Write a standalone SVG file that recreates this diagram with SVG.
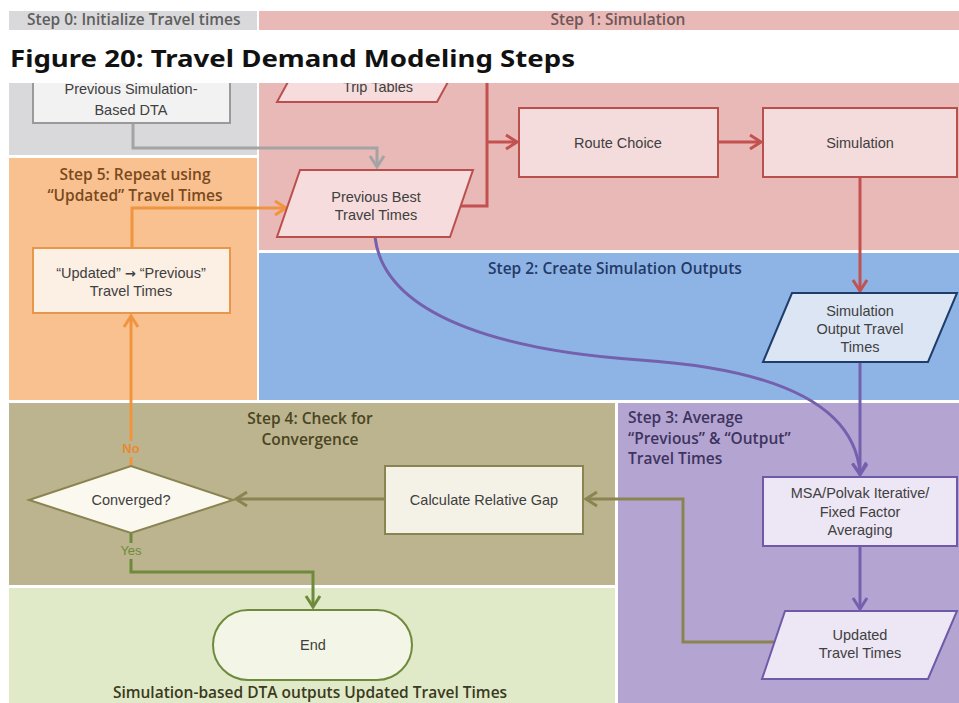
<svg xmlns="http://www.w3.org/2000/svg" width="959" height="703" viewBox="0 0 959 703">
  <style>
    .node { font-family: "Liberation Sans", Arial, sans-serif; font-size: 14.5px; fill: #404040; text-anchor: middle; }
    .step { font-family: "Open Sans", "Noto Sans", sans-serif; font-weight: 600; font-size: 15.5px; }
    .conn { fill: none; stroke-width: 3; stroke-linejoin: miter; }
    .red { stroke: #c2514f; }
    .gray { stroke: #a4a4a4; }
    .orange { stroke: #f0943e; }
    .purple { stroke: #7560ae; }
    .olive { stroke: #8a8452; }
    .green { stroke: #6f8a3c; }
  </style>
  <defs>
    <marker id="ah-red" markerUnits="userSpaceOnUse" markerWidth="18" markerHeight="18" refX="13" refY="9" orient="auto"><path d="M2,2 L13,9 L2,16" fill="none" stroke="#c2514f" stroke-width="3"/></marker>
    <marker id="ah-gray" markerUnits="userSpaceOnUse" markerWidth="18" markerHeight="18" refX="13" refY="9" orient="auto"><path d="M2,2 L13,9 L2,16" fill="none" stroke="#a4a4a4" stroke-width="3"/></marker>
    <marker id="ah-orange" markerUnits="userSpaceOnUse" markerWidth="18" markerHeight="18" refX="13" refY="9" orient="auto"><path d="M2,2 L13,9 L2,16" fill="none" stroke="#f0943e" stroke-width="3"/></marker>
    <marker id="ah-purple" markerUnits="userSpaceOnUse" markerWidth="18" markerHeight="18" refX="13" refY="9" orient="auto"><path d="M2,2 L13,9 L2,16" fill="none" stroke="#7560ae" stroke-width="3"/></marker>
    <marker id="ah-olive" markerUnits="userSpaceOnUse" markerWidth="18" markerHeight="18" refX="13" refY="9" orient="auto"><path d="M2,2 L13,9 L2,16" fill="none" stroke="#8a8452" stroke-width="3"/></marker>
    <marker id="ah-green" markerUnits="userSpaceOnUse" markerWidth="18" markerHeight="18" refX="13" refY="9" orient="auto"><path d="M2,2 L13,9 L2,16" fill="none" stroke="#6f8a3c" stroke-width="3"/></marker>
    <clipPath id="body"><rect x="0" y="83" width="959" height="620"/></clipPath>
  </defs>

  <rect width="959" height="703" fill="#ffffff"/>

  <!-- header row -->
  <g id="header">
    <rect x="9" y="11" width="248" height="19" fill="#d9d9db"/>
    <rect x="259" y="11" width="700" height="19" fill="#e9b9b8"/>
    <text class="step" x="27" y="25" font-size="13.5" fill="#5e5e5e">Step 0: Initialize Travel times</text>
    <text class="step" x="618" y="25" font-size="13.5" fill="#6e5656" text-anchor="middle">Step 1: Simulation</text>
  </g>

  <text x="10" y="67" font-family="Noto Sans, DejaVu Sans, sans-serif" font-weight="700" font-size="24" fill="#111" textLength="565" lengthAdjust="spacingAndGlyphs">Figure 20: Travel Demand Modeling Steps</text>

  <g clip-path="url(#body)">
    <!-- stage bands -->
    <g id="bands">
      <rect x="9" y="70" width="248" height="85" fill="#d9d9db"/>
      <rect x="259" y="70" width="700" height="180" fill="#e9b9b8"/>
      <rect x="9" y="158" width="248" height="242" fill="#f9c190"/>
      <rect x="259" y="253" width="700" height="147" fill="#8eb4e6"/>
      <rect x="9" y="403" width="606" height="182" fill="#bcb48e"/>
      <rect x="618" y="403" width="341" height="300" fill="#b4a4d2"/>
      <rect x="9" y="588" width="606" height="115" fill="#e0e9c8"/>
    </g>

    <!-- stage labels -->
    <g id="stage-labels">
      <text class="step" x="135" y="180" fill="#7a4a1e" text-anchor="middle">Step 5: Repeat using</text>
      <text class="step" x="135" y="201" fill="#7a4a1e" text-anchor="middle">“Updated” Travel Times</text>
      <text class="step" x="488" y="274" fill="#243a66">Step 2: Create Simulation Outputs</text>
      <text class="step" x="628" y="423" font-size="15" fill="#3d345e">Step 3: Average</text>
      <text class="step" x="628" y="443.5" font-size="15" fill="#3d345e">“Previous”  &amp; “Output”</text>
      <text class="step" x="628" y="464" font-size="15" fill="#3d345e">Travel Times</text>
      <text class="step" x="310" y="424" fill="#4a4522" text-anchor="middle">Step 4: Check for</text>
      <text class="step" x="310" y="445" fill="#4a4522" text-anchor="middle">Convergence</text>
      <text class="step" x="310" y="698" font-size="15" fill="#3a3a1e" text-anchor="middle">Simulation-based DTA outputs Updated Travel Times</text>
    </g>

    <!-- connectors -->
    <g id="connectors">
      <path class="conn gray" d="M133,123 V148 H377 V167" marker-end="url(#ah-gray)"/>
      <path class="conn red" d="M450,70 H487 V206 H461"/>
      <path class="conn red" d="M487,142 H517" marker-end="url(#ah-red)"/>
      <path class="conn red" d="M718,142 H761" marker-end="url(#ah-red)"/>
      <path class="conn red" d="M860,177 V291" marker-end="url(#ah-red)"/>
      <path class="conn purple" d="M375,237 C385,322 520,352 640,360 C760,368 855,398 860,474" marker-end="url(#ah-purple)"/>
      <path class="conn purple" d="M860,362 V475" marker-end="url(#ah-purple)"/>
      <path class="conn purple" d="M860,546 V609" marker-end="url(#ah-purple)"/>
      <path class="conn olive" d="M774,642 H683 V499 H586" marker-end="url(#ah-olive)"/>
      <path class="conn olive" d="M385,499 H236" marker-end="url(#ah-olive)"/>
      <path class="conn orange" d="M131,466 V316" marker-end="url(#ah-orange)"/>
      <path class="conn orange" d="M132,248 V208 H286" marker-end="url(#ah-orange)"/>
      <path class="conn green" d="M131,533 V572 H313 V607" marker-end="url(#ah-green)"/>
      <rect x="119" y="441" width="24" height="16" fill="#bcb48e"/>
      <text x="131" y="453" font-family="Liberation Sans, Arial, sans-serif" font-size="13" font-weight="700" fill="#e88a2e" text-anchor="middle">No</text>
      <rect x="116" y="543" width="30" height="16" fill="#bcb48e"/>
      <text x="131" y="555" font-family="Liberation Sans, Arial, sans-serif" font-size="13" fill="#6f8a3c" text-anchor="middle">Yes</text>
    </g>

    <!-- nodes -->
    <g id="prev-sim-dta">
      <rect x="33" y="60" width="197" height="63" fill="#f2f2f2" stroke="#9a9a9a" stroke-width="2"/>
      <text class="node" x="131" y="94">Previous Simulation-</text>
      <text class="node" x="131" y="115">Based DTA</text>
    </g>
    <g id="trip-tables">
      <polygon points="300,60 460,60 437,102 277,102" fill="#f6dcdc" stroke="#b9504e" stroke-width="2"/>
      <text class="node" x="378" y="92">Trip Tables</text>
    </g>
    <g id="prev-best">
      <polygon points="300,170 473,170 450,237 277,237" fill="#f6dcdc" stroke="#b9504e" stroke-width="2"/>
      <text class="node" x="376" y="202">Previous Best</text>
      <text class="node" x="376" y="220">Travel Times</text>
    </g>
    <g id="route-choice">
      <rect x="519" y="108" width="199" height="69" fill="#f5dcdc" stroke="#b9504e" stroke-width="2"/>
      <text class="node" x="618" y="148">Route Choice</text>
    </g>
    <g id="simulation">
      <rect x="763" y="108" width="194" height="69" fill="#f5dcdc" stroke="#b9504e" stroke-width="2"/>
      <text class="node" x="860" y="148">Simulation</text>
    </g>
    <g id="sim-output">
      <polygon points="792,293 957,293 928,362 763,362" fill="#dbe5f4" stroke="#1f3d6b" stroke-width="2"/>
      <text class="node" x="860" y="316">Simulation</text>
      <text class="node" x="860" y="334">Output Travel</text>
      <text class="node" x="860" y="352">Times</text>
    </g>
    <g id="updated-to-previous">
      <rect x="33" y="248" width="197" height="65" fill="#fcefe3" stroke="#e8974a" stroke-width="2"/>
      <text class="node" x="131" y="278">“Updated” <tspan font-family="DejaVu Sans, sans-serif" font-weight="700" font-size="13">→</tspan> “Previous”</text>
      <text class="node" x="131" y="296">Travel Times</text>
    </g>
    <g id="averaging">
      <rect x="763" y="477" width="194" height="69" fill="#ece6f5" stroke="#6e5aa8" stroke-width="2"/>
      <text class="node" x="860" y="498">MSA/Polvak Iterative/</text>
      <text class="node" x="860" y="517">Fixed Factor</text>
      <text class="node" x="860" y="535">Averaging</text>
    </g>
    <g id="updated-times">
      <polygon points="785,611 957,611 928,679 762,679" fill="#ece6f5" stroke="#6e5aa8" stroke-width="2"/>
      <text class="node" x="860" y="640">Updated</text>
      <text class="node" x="860" y="658">Travel Times</text>
    </g>
    <g id="relative-gap">
      <rect x="385" y="466" width="198" height="68" fill="#f4f2e6" stroke="#8a8452" stroke-width="2"/>
      <text class="node" x="484" y="505">Calculate Relative Gap</text>
    </g>
    <g id="converged">
      <polygon points="29,500 131,466 233,500 131,533" fill="#fbf9ef" stroke="#8a8452" stroke-width="2"/>
      <text class="node" x="131" y="505">Converged?</text>
    </g>
    <g id="end">
      <rect x="213" y="610" width="199" height="70" rx="35" ry="35" fill="#f3f6e6" stroke="#6f8a3c" stroke-width="2"/>
      <text class="node" x="313" y="650">End</text>
    </g>
  </g>
</svg>
